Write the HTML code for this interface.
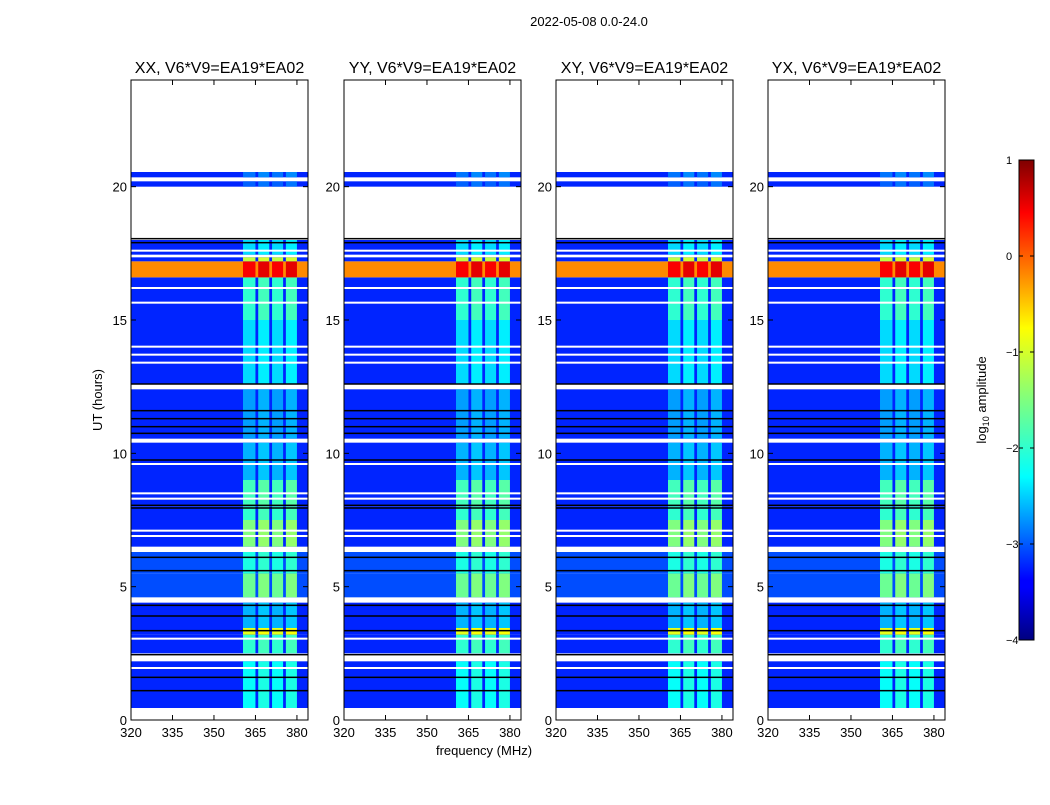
<!DOCTYPE html>
<html><head><meta charset="utf-8"><style>
body{margin:0;background:#fff;font-family:"Liberation Sans",sans-serif;}
svg text{font-family:"Liberation Sans",sans-serif;}
</style></head><body>
<svg id="c" width="1050" height="800">
<defs><linearGradient id="jet" x1="0" y1="1" x2="0" y2="0">
<stop offset="0" stop-color="#00007f"/><stop offset="0.11" stop-color="#0000ff"/><stop offset="0.125" stop-color="#0000ff"/>
<stop offset="0.34" stop-color="#00ffff" /><stop offset="0.5" stop-color="#7fff7f"/><stop offset="0.65" stop-color="#ffff00"/>
<stop offset="0.89" stop-color="#ff0000"/><stop offset="1" stop-color="#7f0000"/></linearGradient></defs>
<text x="589" y="26" font-size="13" text-anchor="middle">2022-05-08 0.0-24.0</text>
<text x="484" y="755" font-size="13" text-anchor="middle">frequency (MHz)</text>
<text transform="translate(102,400) rotate(-90)" font-size="13" text-anchor="middle">UT (hours)</text>
</svg>
<script>
const panelTitles=["XX, V6*V9=EA19*EA02","YY, V6*V9=EA19*EA02","XY, V6*V9=EA19*EA02","YX, V6*V9=EA19*EA02"];
const panelLeft=[131,344,556,768];
const xTicks=[320,335,350,365,380];
const yTicks=[0,5,10,15,20];
// data segments in hours
const segStart=[0.45,1.1,2.5,3.2,3.45,4.6,5.5,6.5,7.5,8.0,9.0,10.55,12.6,15.0,16.6,17.2,17.45,20.0,20.35];
const segEnd=  [1.1,2.2,3.2,3.45,4.4,5.5,6.3,7.5,8.0,9.0,10.4,12.4,15.0,16.6,17.2,17.35,18.0,20.2,20.55];
const segBg=   [-3.2,-3.2,-3.2,-3.2,-3.2,-3.0,-3.0,-3.2,-3.2,-3.2,-3.2,-3.2,-3.2,-3.2,-0.3,-3.2,-3.2,-3.2,-3.2];
const segBand= [-2.1,-2.1,-1.9,-1.0,-2.5,-1.6,-2.0,-1.5,-1.9,-1.8,-2.5,-2.6,-2.3,-1.9,0.4,-1.2,-2.3,-2.9,-2.8];
const bandLo=[360.5,366,371,376];
const bandHi=[365,370,375,380];
const whiteLines=[17.6,16.2,15.65,14.0,13.7,13.4,9.6,8.5,8.3,7.1,6.9,3.05,1.95];
const blackLines=[18.05,17.9,12.6,11.6,11.3,11.0,10.75,9.75,8.05,7.95,6.1,5.6,4.3,3.9,3.35,2.45,1.6,1.1];
const cbTicks=[1,0,-1,-2,-3,-4];

const svg=document.getElementById('c');const NS='http://www.w3.org/2000/svg';
function mk(t,a,p){const e=document.createElementNS(NS,t);for(const k in a)e.setAttribute(k,a[k]);(p||svg).appendChild(e);return e;}
function jet(v){let x=Math.max(0,Math.min(1,(v+4)/5));const c=f=>Math.round(255*Math.max(0,Math.min(1,1.5-Math.abs(4*x-f))));return `rgb(${c(3)},${c(2)},${c(1)})`;}
const PW=177,TOPY=80,BOTY=720;
const yS=h=>BOTY-(h/24)*(BOTY-TOPY);
panelLeft.forEach((L,pi)=>{
  const xS=f=>L+(f-320)/64*PW;
  const g=mk('g',{});
  
  
  for(let i=0;i<segStart.length;i++){
    const y1=yS(segEnd[i]),y2=yS(segStart[i]);
    const r=mk('rect',{x:L,y:y1,width:PW,height:y2-y1,fill:jet(segBg[i])},g);
    
    
    for(let b=0;b<bandLo.length;b++){
      const br=mk('rect',{x:xS(bandLo[b]),y:y1,width:xS(bandHi[b])-xS(bandLo[b]),height:y2-y1,fill:jet(segBand[i]+(b%2?0.1:0))},g);
      
      
    }
  }
  whiteLines.forEach(h=>{const l=mk('rect',{x:L,y:yS(h)-1,width:PW,height:2,fill:'#fff'},g);
    
    });
  blackLines.forEach(h=>{const l=mk('rect',{x:L,y:yS(h)-0.75,width:PW,height:1.5,fill:'#000'},g);
    
    });
  const fr=mk('rect',{x:L,y:TOPY,width:PW,height:BOTY-TOPY,fill:'none',stroke:'#000','stroke-width':1});
  
  
  const t=mk('text',{x:L+PW/2,y:73,'font-size':16,'text-anchor':'middle'});t.textContent=panelTitles[pi];
  
  
  xTicks.forEach(v=>{const x=xS(v);mk('line',{x1:x,x2:x,y1:BOTY,y2:BOTY-5,stroke:'#000'});mk('line',{x1:x,x2:x,y1:TOPY,y2:TOPY+5,stroke:'#000'});
    const tx=mk('text',{x:x,y:BOTY+17,'font-size':13,'text-anchor':'middle'});tx.textContent=v;
    
    });
  yTicks.forEach(v=>{const y=yS(v);mk('line',{x1:L,x2:L+5,y1:y,y2:y,stroke:'#000'});mk('line',{x1:L+PW,x2:L+PW-5,y1:y,y2:y,stroke:'#000'});
    const ty=mk('text',{x:L-4,y:y+5,'font-size':13,'text-anchor':'end'});ty.textContent=v;
    
    });
});
// colorbar
const cb=mk('rect',{x:1019,y:160,width:15,height:480,fill:'url(#jet)',stroke:'#000'});


cbTicks.forEach(v=>{const y=160+(1-v)/5*480;mk('line',{x1:1019,x2:1023,y1:y,y2:y,stroke:'#000'});mk('line',{x1:1034,x2:1030,y1:y,y2:y,stroke:'#000'});
  const t=mk('text',{x:1006,y:y+4,'font-size':11,'text-anchor':'start'});t.textContent=(v<0?'\u2212'+(-v):v);
  
  });
const ct=mk('text',{transform:'translate(986,400) rotate(-90)','font-size':13,'text-anchor':'middle'});
ct.innerHTML='log<tspan font-size="9" dy="3">10</tspan><tspan dy="-3"> amplitude</tspan>';


</script>
</body></html>
